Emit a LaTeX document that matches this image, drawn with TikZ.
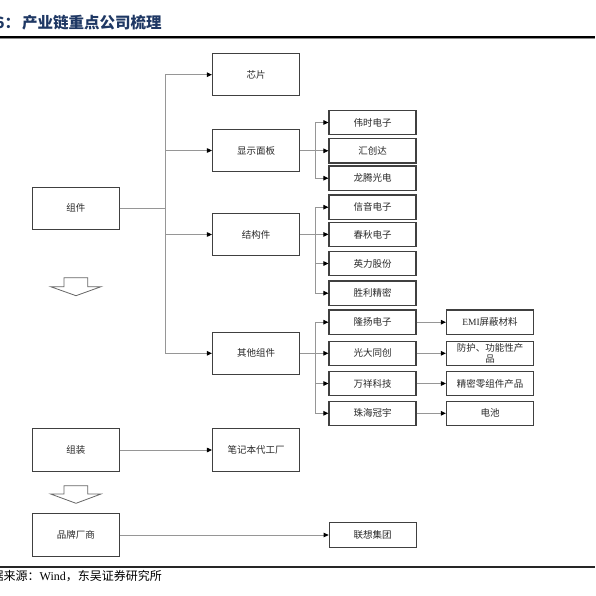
\documentclass[tikz,border=0pt]{standalone}
\usepackage{fontspec}
\setmainfont{Liberation Serif}
\newfontfamily\cjk{Noto Sans CJK SC}
\usetikzlibrary{arrows.meta}
\definecolor{navy}{RGB}{31,56,100}
\definecolor{boxc}{RGB}{64,64,64}
\definecolor{linec}{RGB}{150,150,150}
\definecolor{txt}{RGB}{40,40,40}
\begin{document}
\begin{tikzpicture}[x=1pt,y=-1pt,
  bigbox/.style={draw=boxc, line width=1.1pt, minimum width=87pt, minimum height=42.5pt,
    inner sep=1pt, align=center, font=\cjk\fontsize{9.5}{11}\selectfont, text=txt},
  smallbox/.style={bigbox, minimum height=24.5pt},
  arr/.style={draw=linec, line width=0.9pt, -{Triangle[length=5pt,width=4.5pt,color=black]}},
  hollow/.style={draw=black!60, line width=0.8pt, fill=white},
  rule/.style={line width=1.6pt, draw=black}
]
\useasboundingbox (0,0) rectangle (595,596);

% title and rules
\node[anchor=west, inner sep=0pt, text=navy, font=\cjk\bfseries\fontsize{15.5}{17}\selectfont] (title) at (-5,22.5) {6：\hspace{2pt}产业链重点公司梳理};
\draw[rule] (0,36.8) -- (595,36.8);
\draw[draw=black!45, line width=0.8pt] (0,38.4) -- (595,38.4);
\draw[line width=1.5pt, draw=black!85] (0,567) -- (595,567);
\node[anchor=west, inner sep=0pt, text=black, font=\cjk\fontsize{12}{14}\selectfont] (src) at (-8.5,576) {据来源：{\rmfamily Wind}，东吴证券研究所};

% main boxes
\node[bigbox] (zj) at (75.8,208.3) {组件};
\node[bigbox] (xp) at (256,74.7) {芯片};
\node[bigbox] (xs) at (256,150.5) {显示面板};
\node[bigbox] (jg) at (256,234.5) {结构件};
\node[bigbox] (qt) at (256,353.3) {其他组件};
\node[bigbox] (zz) at (75.8,450) {组装};
\node[bigbox] (bj) at (256,450) {笔记本代工厂};
\node[bigbox] (pp) at (75.8,535) {品牌厂商};

% small boxes
\node[smallbox] (ws) at (372.5,122.5) {伟时电子};
\node[smallbox] (hc) at (372.5,150.8) {汇创达};
\node[smallbox] (lt) at (372.5,178.2) {龙腾光电};
\node[smallbox] (xy) at (372.5,207.2) {信音电子};
\node[smallbox] (cq) at (372.5,234.4) {春秋电子};
\node[smallbox] (yl) at (372.5,263.5) {英力股份};
\node[smallbox] (sl) at (372.5,293.2) {胜利精密};
\node[smallbox] (ly) at (372.5,322.2) {隆扬电子};
\node[smallbox] (gd) at (372.5,353.3) {光大同创};
\node[smallbox] (wx) at (372.5,383.5) {万祥科技};
\node[smallbox] (zh) at (372.5,413.3) {珠海冠宇};
\node[smallbox] (lx) at (372.7,535) {联想集团};

% right boxes
\node[smallbox] (emi) at (490,322.2) {{\rmfamily EMI}屏蔽材料};
\node[smallbox, font=\cjk\fontsize{9.5}{10.5}\selectfont] (fh) at (490,353.3) {防护、功能性产\\品};
\node[smallbox] (jm) at (490,383.5) {精密零组件产品};
\node[smallbox] (dc) at (490,413.3) {电池};

% connectors from 组件
\draw[arr] (zj.east) -- ++(46,0) |- (xp.west);
\draw[arr] (zj.east) -- ++(46,0) |- (xs.west);
\draw[arr] (zj.east) -- ++(46,0) |- (jg.west);
\draw[arr] (zj.east) -- ++(46,0) |- (qt.west);

% display panel
\draw[arr] (xs.east) -- ++(15,0) |- (ws.west);
\draw[arr] (xs.east) -- ++(15,0) |- (hc.west);
\draw[arr] (xs.east) -- ++(15,0) |- (lt.west);

% structure
\draw[arr] (jg.east) -- ++(15,0) |- (xy.west);
\draw[arr] (jg.east) -- ++(15,0) |- (cq.west);
\draw[arr] (jg.east) -- ++(15,0) |- (yl.west);
\draw[arr] (jg.east) -- ++(15,0) |- (sl.west);

% other components
\draw[arr] (qt.east) -- ++(15,0) |- (ly.west);
\draw[arr] (qt.east) -- ++(15,0) |- (gd.west);
\draw[arr] (qt.east) -- ++(15,0) |- (wx.west);
\draw[arr] (qt.east) -- ++(15,0) |- (zh.west);

% products
\draw[arr] (ly.east) -- (emi.west);
\draw[arr] (gd.east) -- (fh.west);
\draw[arr] (wx.east) -- (jm.west);
\draw[arr] (zh.east) -- (dc.west);

% assembly and brands
\draw[arr] (zz.east) -- (bj.west);
\draw[arr] (pp.east) -- (lx.west);

% hollow block arrows
\draw[hollow] (64,277.7) -- (87.7,277.7) -- (87.7,286.7) -- (101,286.7) -- (76,295.7) -- (50.7,286.7) -- (64,286.7) -- cycle;
\draw[hollow] (64,485.7) -- (87.7,485.7) -- (87.7,494) -- (101,494) -- (76,503.3) -- (50.7,494) -- (64,494) -- cycle;
\end{tikzpicture}
\end{document}
